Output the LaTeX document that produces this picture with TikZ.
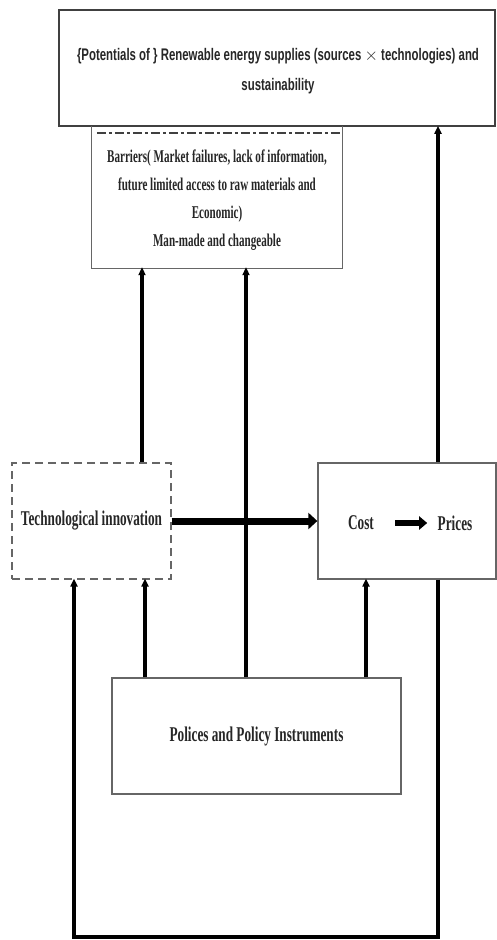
\documentclass[tikz,border=0pt]{standalone}
\usepackage{fontspec}
\setmainfont{Liberation Serif}
\newfontfamily\condserif[FakeStretch=0.63]{Liberation Serif}
\newfontfamily\barserif[FakeStretch=0.615]{Liberation Serif}
\newfontfamily\condsans[FakeStretch=0.68]{Liberation Sans}
\usetikzlibrary{arrows.meta}
\begin{document}
\begin{tikzpicture}[x=1pt,y=1pt,
  box/.style={draw=black!60, line width=1.3pt, rectangle, inner sep=0pt, align=center, text=black!85},
  conn/.style={line width=3.5pt, draw=black},
  arr/.style={conn, -{Triangle[length=8pt,width=7pt]}, shorten >=-1pt},
  lbl/.style={font=\condserif\bfseries\fontsize{21}{24}\selectfont, text=black!85, align=center},
]
\useasboundingbox (0,0) rectangle (497,-940);
% top box
\node[box, draw=black!75, line width=1.8pt, minimum width=436pt, minimum height=116pt] (top) at (277,-68) {};
\node[font=\condsans\bfseries\fontsize{16.8}{30}\selectfont, text=black!85, align=center] (toptext) at (278,-71)
  {\{Potentials of \} Renewable energy supplies (sources $\times$ technologies) and\\ sustainability};
% barriers box
\node[minimum width=250pt, minimum height=142pt, inner sep=0pt] (bar) at (217,-197) {};
\node[font=\barserif\bfseries\fontsize{18}{28}\selectfont, text=black!85, align=center] (bartext) at (217,-200)
  {Barriers( Market failures, lack of information,\\ future limited access to raw materials and\\ Economic)\\ Man-made and changeable};
\draw[black!60, line width=1.3pt] (bar.north west) -- (bar.south west) -- (bar.south east) -- (bar.north east);
\draw[black!75, line width=2.5pt, dash pattern=on 9pt off 3pt on 3pt off 3pt]
  ([xshift=5pt,yshift=-7pt]bar.north west) -- ([yshift=-7pt]bar.north east);
% technological innovation
\node[box, lbl, dashed, dash pattern=on 8pt off 5pt, minimum width=159pt, minimum height=116pt] (tech) at (91.5,-521) {Technological innovation};
% cost box
\node[box, minimum width=178pt, minimum height=116pt] (cbox) at (407,-521) {};
\node[lbl, anchor=center] (cost) at (361,-523) {Cost};
\node[lbl, anchor=center] (price) at (455,-523) {Prices};
\draw[line width=5.5pt, -{Triangle[length=8pt,width=13pt]}] ([xshift=18pt]cost.east) -- ([xshift=-7pt]price.west);
% policy box
\node[box, lbl, minimum width=289pt, minimum height=116pt] (pol) at (256.5,-736) {Polices and Policy Instruments};
% thick arrow tech -> cost
\draw[line width=7pt, -{Triangle[length=9pt,width=16pt]}] (tech.east) -- (cbox.west);
% coordinates
\coordinate (t1) at ([xshift=50.5pt]tech.north);
\coordinate (c1) at ([xshift=31pt]cbox.north);
\coordinate (p1) at ([xshift=-111.5pt]pol.north);
\coordinate (p2) at ([xshift=-10.5pt]pol.north);
\coordinate (p3) at ([xshift=109.5pt]pol.north);
\coordinate (c2) at ([xshift=31pt]cbox.south);
\coordinate (t2) at ([xshift=-17.5pt]tech.south);
\coordinate (lb) at (0,-937);
% connectors
\draw[arr] (t1) -- (t1 |- bar.south);
\draw[arr] (c1) -- (c1 |- top.south);
\draw[arr] (p1) -- (p1 |- tech.south);
\draw[arr] (p2) -- (p2 |- bar.south);
\draw[arr] (p3) -- (p3 |- cbox.south);
\draw[arr] (c2) -- (c2 |- lb) -- (t2 |- lb) -- (t2);
\end{tikzpicture}
\end{document}
